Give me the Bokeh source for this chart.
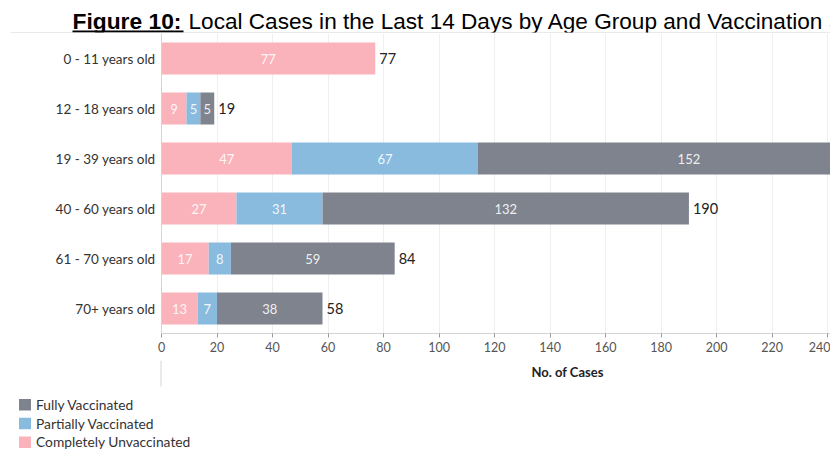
from bokeh.plotting import figure
from bokeh.models import ColumnDataSource, FactorRange, Range1d, FixedTicker
from bokeh.layouts import column
from bokeh.embed import file_html
from bokeh.resources import INLINE
from bokeh.core.properties import value

# ---------------- data ----------------
age_groups = ["0 - 11 years old", "12 - 18 years old", "19 - 39 years old",
              "40 - 60 years old", "61 - 70 years old", "70+ years old"]
unvaccinated = [77, 9, 47, 27, 17, 13]
partially = [0, 5, 67, 31, 8, 7]
fully = [0, 5, 152, 132, 59, 38]
x_ticks = [0, 20, 40, 60, 80, 100, 120, 140, 160, 180, 200, 220, 240]
series_names = ["Completely Unvaccinated", "Partially Vaccinated", "Fully Vaccinated"]
legend_order = ["Fully Vaccinated", "Partially Vaccinated", "Completely Unvaccinated"]
colors = {"Completely Unvaccinated": "#FBB3BB",
          "Partially Vaccinated": "#88BBDE",
          "Fully Vaccinated": "#7E838D"}
title_bold = "Figure 10:"
title_rest = "Local Cases in the Last 14 Days by Age Group and Vaccination Status"
x_title = "No. of Cases"

# ---------------- layout constants ----------------
W = 830
H_TITLE = 33
LEFT = 161
FH = 300
B_BOTTOM = 27
H_MAIN = FH + B_BOTTOM
H_FOOT = 468 - H_TITLE - H_MAIN
X_END = 241
DIV = "#d4d4d4"

totals = [u + pa + f for u, pa, f in zip(unvaccinated, partially, fully)]


def blank(height, y_top):
    f = figure(width=W, height=height, x_range=Range1d(0, W),
               y_range=Range1d(y_top + height, y_top),
               x_axis_type=None, y_axis_type=None, title=None,
               output_backend="svg", toolbar_location=None,
               min_border=0, frame_align=False)
    f.outline_line_color = None
    f.grid.grid_line_color = None
    return f


# ---------------- title strip ----------------
t = blank(H_TITLE, 0)
t.text(x=[72], y=[20.5], text=[title_bold], text_font=value("Liberation Sans"),
       text_font_style="bold", text_font_size="22.8px", text_color="black",
       text_baseline="middle")
t.text(x=[188], y=[20.5], text=[title_rest], text_font=value("Liberation Sans"),
       text_font_size="22.6px", text_color="black", text_baseline="middle")
t.segment(x0=[72], y0=[31], x1=[183], y1=[31], line_color="black", line_width=2)
t.segment(x0=[10], y0=[32.5], x1=[W], y1=[32.5], line_color=DIV, line_width=1)

# ---------------- main chart ----------------
src = ColumnDataSource(dict(age=age_groups, u=unvaccinated, pa=partially, f=fully))

p = figure(width=W, height=H_MAIN, title=None,
           y_range=FactorRange(factors=age_groups[::-1], range_padding=0),
           x_range=Range1d(0, X_END),
           output_backend="svg", toolbar_location=None,
           min_border_left=LEFT, min_border_right=0,
           min_border_top=0, min_border_bottom=B_BOTTOM, frame_align=False)
p.outline_line_color = None
p.background_fill_color = "white"

p.hbar_stack(["u", "pa", "f"], y="age", height=0.64, source=src,
             color=[colors[s] for s in series_names], line_color=None)

ix, iy, it = [], [], []
for i, age in enumerate(age_groups):
    start = 0
    for vals in (unvaccinated, partially, fully):
        v = vals[i]
        if v > 0:
            ix.append(start + v / 2)
            iy.append(age)
            it.append(str(v))
        start += v
p.text(x=ix, y=iy, text=it, text_align="center", text_baseline="middle",
       text_color="white", text_alpha=0.9, text_font=value("Lato"),
       text_font_size="13px")

p.text(x=totals, y=age_groups, text=[str(v) for v in totals], x_offset=4,
       text_align="left", text_baseline="middle", text_color="#222222",
       text_font=value("Lato"), text_font_size="14.5px")

xa = p.xaxis[0]
xa.ticker = FixedTicker(ticks=x_ticks)
xa.axis_line_color = DIV
xa.major_tick_line_color = "#9a9a9a"
xa.major_tick_out = 4
xa.major_tick_in = 0
xa.minor_tick_line_color = None
xa.major_label_standoff = 4
xa.major_label_text_font = "Lato"
xa.major_label_text_font_size = "12.5px"
xa.major_label_text_color = "#555555"

ya = p.yaxis[0]
ya.axis_line_color = DIV
ya.major_tick_line_color = None
ya.minor_tick_line_color = None
ya.major_tick_out = 0
ya.major_label_standoff = 6
ya.major_label_text_font = "Lato"
ya.major_label_text_font_size = "13.5px"
ya.major_label_text_color = "#333333"

p.xgrid.grid_line_color = "#efefef"
p.xgrid.ticker = FixedTicker(ticks=x_ticks)
p.ygrid.grid_line_color = None

# ---------------- footer: axis title + legend ----------------
top_foot = H_TITLE + H_MAIN
c = blank(H_FOOT, top_foot)
c.segment(x0=[LEFT - 0.5], y0=[top_foot], x1=[LEFT - 0.5], y1=[386],
          line_color=DIV, line_width=1)
c.text(x=[567], y=[371], text=[x_title], text_font=value("Lato"),
       text_font_style="bold", text_font_size="13px", text_color="#222222",
       text_align="center", text_baseline="middle")

lg_top = [398.5 + k * 18.7 for k in range(len(legend_order))]
c.quad(left=[18.5] * len(legend_order), right=[30.5] * len(legend_order),
       top=lg_top, bottom=[y + 11.5 for y in lg_top],
       color=[colors[n] for n in legend_order], line_color=None)
c.text(x=[35.5] * len(legend_order), y=[y + 5.5 for y in lg_top], text=legend_order,
       text_font=value("Lato"), text_font_size="13.8px", text_color="#333333",
       text_baseline="middle")

layout = column(t, p, c, spacing=0)
open("out.html", "w").write(file_html(layout, INLINE))
